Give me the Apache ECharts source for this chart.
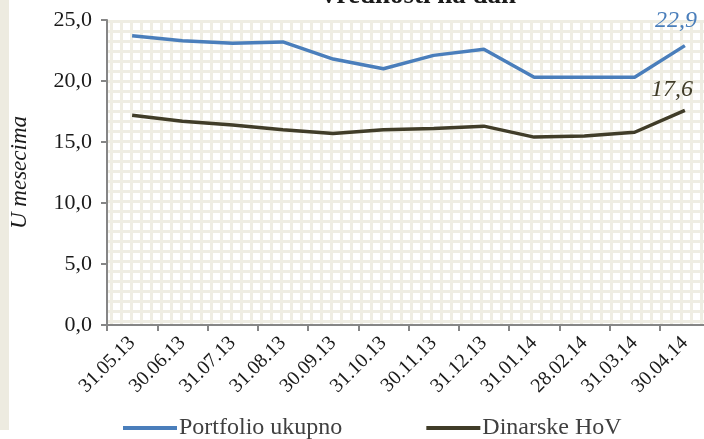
<!DOCTYPE html>
<html><head><meta charset="utf-8">
<script src="https://cdn.jsdelivr.net/npm/echarts@6/dist/echarts.min.js"></script>
<style>html,body{margin:0;padding:0;background:#fff}#c{width:704px;height:439px}</style>
</head><body><div id="c"></div>
<script>
var categories = ['31.05.13','30.06.13','31.07.13','31.08.13','30.09.13','31.10.13','30.11.13','31.12.13','31.01.14','28.02.14','31.03.14','30.04.14'];
var portfolio = [23.7, 23.3, 23.1, 23.2, 21.8, 21.0, 22.1, 22.6, 20.3, 20.3, 20.3, 22.9];
var dinarske = [17.2, 16.7, 16.4, 16.0, 15.7, 16.0, 16.1, 16.3, 15.4, 15.5, 15.8, 17.6];
var yTicks = [0, 5, 10, 15, 20, 25];
var seriesNames = ['Portfolio ukupno', 'Dinarske HoV'];

var pc = document.createElement('canvas');
pc.width = 10; pc.height = 10;
var g = pc.getContext('2d');
g.fillStyle = '#ffffff'; g.fillRect(0,0,10,10);
g.fillStyle = '#EFEDE3';
g.fillRect(0,0,10,3);
g.fillRect(0,0,3,10);

var chart = echarts.init(document.getElementById('c'), null, {renderer:'canvas'});
var serif = '"Liberation Serif", "Times New Roman", serif';
function lastLabel(color, dist, dx){
  return {show:true, position:'top', distance:dist, offset:[dx,0], fontFamily:serif, fontStyle:'italic', fontSize:24, color:color,
    formatter:function(p){ return p.dataIndex === categories.length-1 ? p.value.toFixed(1).replace('.', ',') : ''; }};
}
chart.setOption({
  animation:false,
  backgroundColor:'#fff',
  title:{text:'Vrednosti na dan', left:314, top:-22, textStyle:{fontFamily:serif, fontWeight:'bold', fontSize:27, color:'#1a1a1a'}},
  graphic:[{type:'rect', left:0, top:0, shape:{width:9, height:430}, style:{fill:'#EDEBE0'}}],
  grid:{left:107, width:603, top:20, height:305, show:true, borderWidth:0, containLabel:false, outerBoundsMode:'none', backgroundColor:{image:pc, repeat:'repeat'}},
  legend:{top:411, left:118, itemGap:84, itemWidth:54, itemHeight:4, icon:'rect',
    textStyle:{fontFamily:serif, fontSize:24, color:'#404040', padding:[0,0,0,-3]},
    data:seriesNames},
  xAxis:{type:'category', data:categories, boundaryGap:true,
    axisLine:{lineStyle:{color:'#868686', width:2}},
    axisTick:{show:true, length:6, lineStyle:{color:'#868686', width:2}},
    axisLabel:{rotate:45, fontFamily:serif, fontSize:20, color:'#1a1a1a', margin:15, interval:0},
    splitLine:{show:false}},
  yAxis:{type:'value', min:0, max:25, interval:5,
    name:'U mesecima', nameLocation:'middle', nameGap:76, nameRotate:90,
    nameTextStyle:{fontFamily:serif, fontStyle:'italic', fontSize:23, color:'#1a1a1a'},
    axisLine:{show:true, lineStyle:{color:'#868686', width:2}},
    axisTick:{show:true, length:6, lineStyle:{color:'#868686', width:2}},
    axisLabel:{fontFamily:serif, fontSize:22, color:'#1a1a1a', margin:15,
      formatter:function(v){ return v.toFixed(1).replace('.', ','); }},
    splitLine:{show:false}},
  series:[
    {name:seriesNames[0], type:'line', data:portfolio, symbol:'circle', symbolSize:0, showSymbol:true, lineStyle:{color:'#4A7EBB', width:3.5}, itemStyle:{color:'#4A7EBB'}, label:lastLabel('#4A7EBB', 13, -9)},
    {name:seriesNames[1], type:'line', data:dinarske, symbol:'circle', symbolSize:0, showSymbol:true, lineStyle:{color:'#403C28', width:3.5}, itemStyle:{color:'#403C28'}, label:lastLabel('#403C28', 9, -13)}
  ]
});
</script></body></html>
